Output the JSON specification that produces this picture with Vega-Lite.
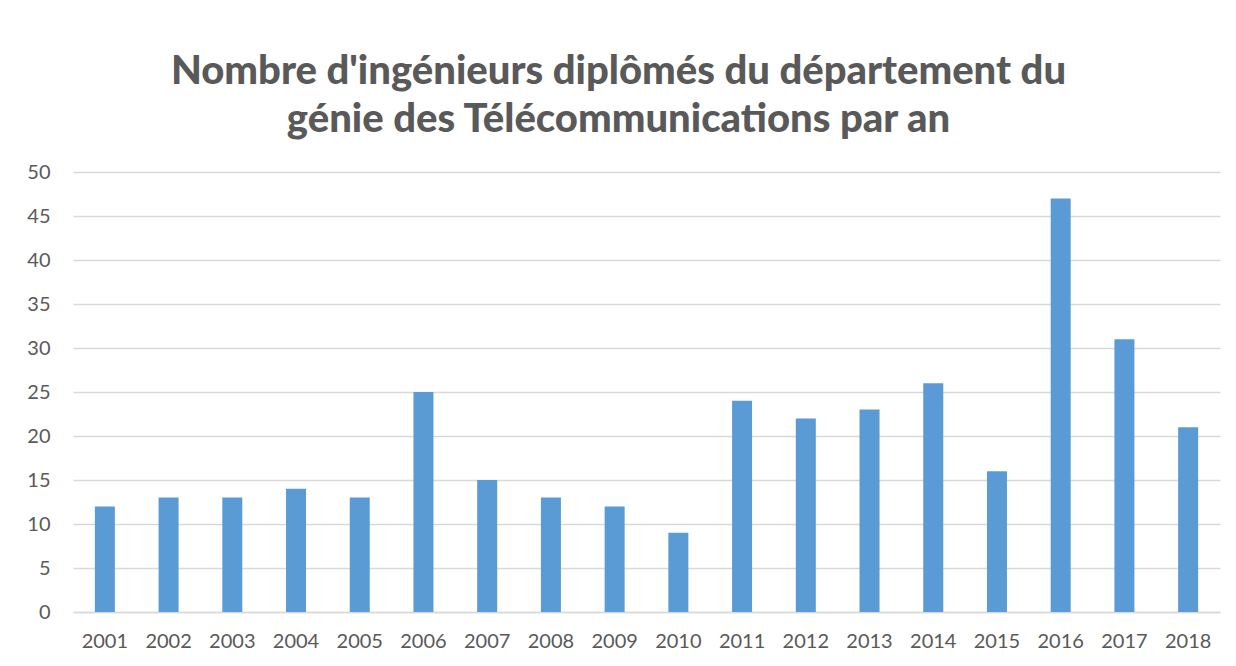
{
  "$schema": "https://vega.github.io/schema/vega-lite/v6.json",
  "width": 1147,
  "height": 440,
  "autosize": {"type": "none"},
  "padding": {"left": 73, "top": 172, "right": 16, "bottom": 54},
  "background": "white",
  "title": {
    "text": ["Nombre d'ingénieurs diplômés du département du", "génie des Télécommunications par an"],
    "font": "Lato",
    "fontSize": 40,
    "fontWeight": 900,
    "color": "#595959",
    "anchor": "middle",
    "frame": "group",
    "dx": -28,
    "offset": 22,
    "lineHeight": 48
  },
  "data": {
    "values": [
      {"annee": "2001", "n": 12},
      {"annee": "2002", "n": 13},
      {"annee": "2003", "n": 13},
      {"annee": "2004", "n": 14},
      {"annee": "2005", "n": 13},
      {"annee": "2006", "n": 25},
      {"annee": "2007", "n": 15},
      {"annee": "2008", "n": 13},
      {"annee": "2009", "n": 12},
      {"annee": "2010", "n": 9},
      {"annee": "2011", "n": 24},
      {"annee": "2012", "n": 22},
      {"annee": "2013", "n": 23},
      {"annee": "2014", "n": 26},
      {"annee": "2015", "n": 16},
      {"annee": "2016", "n": 47},
      {"annee": "2017", "n": 31},
      {"annee": "2018", "n": 21}
    ]
  },
  "mark": {"type": "bar", "color": "#5B9BD5"},
  "encoding": {
    "x": {
      "field": "annee",
      "type": "nominal",
      "sort": null,
      "scale": {"paddingInner": 0.686, "paddingOuter": 0.343},
      "axis": {
        "title": null,
        "labelAngle": 0,
        "labelFont": "Lato",
        "labelFontSize": 20,
        "labelColor": "#595959",
        "labelPadding": 19,
        "ticks": false,
        "domainColor": "#D9D9D9",
        "domainWidth": 1.5,
        "grid": false
      }
    },
    "y": {
      "field": "n",
      "type": "quantitative",
      "scale": {"domain": [0, 50]},
      "axis": {
        "title": null,
        "values": [0, 5, 10, 15, 20, 25, 30, 35, 40, 45, 50],
        "labelFont": "Lato",
        "labelFontSize": 20,
        "labelColor": "#595959",
        "labelPadding": 23,
        "ticks": false,
        "domain": false,
        "gridColor": "#D9D9D9",
        "gridWidth": 1.5
      }
    }
  },
  "config": {"view": {"stroke": null}}
}
